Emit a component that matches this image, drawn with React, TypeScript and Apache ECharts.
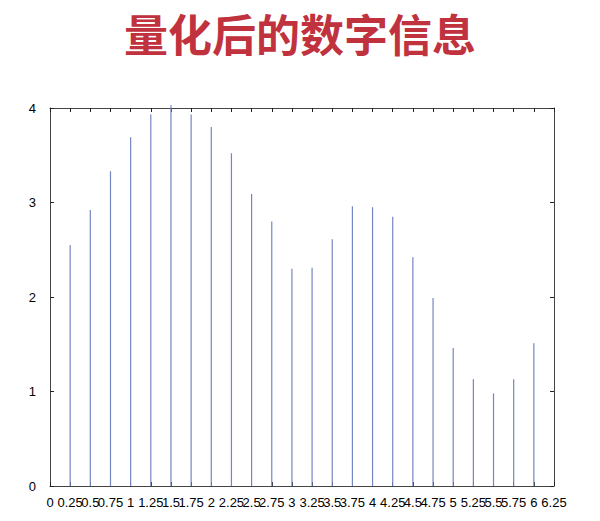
import React, { useEffect, useRef } from "react";
import * as echarts from "echarts";

const titleText = "量化后的数字信息";
const xPositions = [0.25, 0.5, 0.75, 1, 1.25, 1.5, 1.75, 2, 2.25, 2.5, 2.75, 3, 3.25, 3.5, 3.75, 4, 4.25, 4.5, 4.75, 5, 5.25, 5.5, 5.75, 6];
const stemValues = [2.55, 2.92, 3.33, 3.69, 3.93, 4.03, 3.93, 3.8, 3.52, 3.09, 2.8, 2.3, 2.31, 2.61, 2.96, 2.95, 2.85, 2.42, 1.99, 1.46, 1.13, 0.98, 1.13, 1.51];
const xMin = 0;
const xMax = 6.25;
const xStep = 0.25;
const yMin = 0;
const yMax = 4;
const yStep = 1;

export default function App() {
  const ref = useRef<HTMLDivElement>(null);
  useEffect(() => {
    if (!ref.current) return;
    const chart = echarts.init(ref.current, undefined, { renderer: "svg" });
    const data = xPositions.map((x, i) => [x, stemValues[i]]);
    const axisLine = { show: true, onZero: false, lineStyle: { color: "#444", width: 1 } };
    const tick = { show: true, inside: true, length: 4, lineStyle: { color: "#222" } };
    const labelStyle = { color: "#000", fontSize: 13, fontFamily: "Liberation Sans" };
    chart.setOption({
      animation: false,
      backgroundColor: "#fff",
      title: {
        text: titleText,
        left: "center",
        top: 6,
        textStyle: {
          color: "#c1323f",
          fontSize: 44,
          fontWeight: "bold",
          fontFamily: "Noto Sans CJK SC",
        },
      },
      grid: { left: 50, right: 46, top: 108, bottom: 35 },
      xAxis: [
        {
          type: "value",
          min: xMin,
          max: xMax,
          interval: xStep,
          position: "bottom",
          axisLine,
          axisTick: tick,
          axisLabel: { ...labelStyle, margin: 10, showMinLabel: true, showMaxLabel: true },
          splitLine: { show: false },
        },
        {
          type: "value",
          min: xMin,
          max: xMax,
          interval: xStep,
          position: "top",
          axisLine,
          axisTick: tick,
          axisLabel: { show: false },
          splitLine: { show: false },
        },
      ],
      yAxis: [
        {
          type: "value",
          min: yMin,
          max: yMax,
          interval: yStep,
          position: "left",
          axisLine,
          axisTick: tick,
          axisLabel: { ...labelStyle, margin: 14 },
          splitLine: { show: false },
        },
        {
          type: "value",
          min: yMin,
          max: yMax,
          interval: yStep,
          position: "right",
          axisLine,
          axisTick: tick,
          axisLabel: { show: false },
          splitLine: { show: false },
        },
      ],
      series: [
        {
          type: "custom",
          xAxisIndex: 0,
          yAxisIndex: 0,
          clip: false,
          data,
          renderItem: (params: any, api: any) => {
            const x = api.value(0);
            const y = api.value(1);
            const p0 = api.coord([x, 0]);
            const p1 = api.coord([x, y]);
            return {
              type: "line",
              shape: { x1: p0[0], y1: p0[1], x2: p1[0], y2: p1[1] },
              style: { stroke: "#7586c2", lineWidth: 1.2 },
            };
          },
        },
      ],
    });
    return () => chart.dispose();
  }, []);
  return (
    <div
      ref={ref}
      style={{ position: "fixed", left: 0, top: 0, width: 600, height: 521 }}
    />
  );
}
